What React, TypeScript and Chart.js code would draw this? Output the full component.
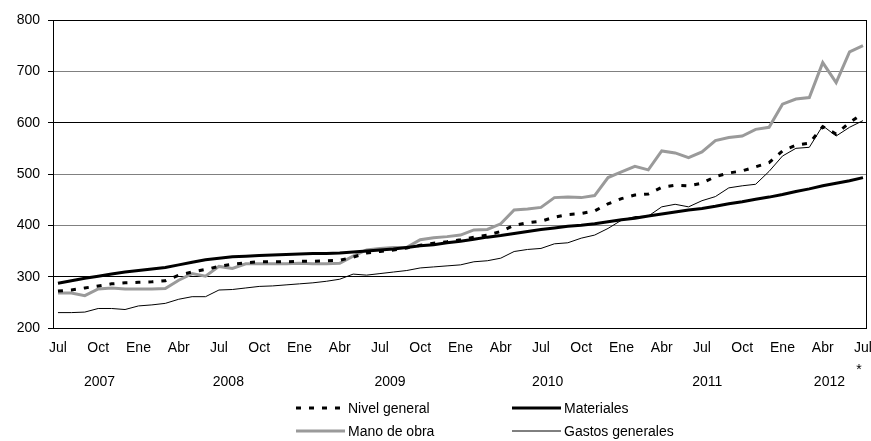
import React, { useEffect, useRef } from 'react';
import { Chart, registerables } from 'chart.js';

Chart.register(...registerables);

// ---------- DATA ----------
const monthTicks = [
  'Jul', 'Oct', 'Ene', 'Abr', 'Jul', 'Oct', 'Ene', 'Abr', 'Jul', 'Oct', 'Ene',
  'Abr', 'Jul', 'Oct', 'Ene', 'Abr', 'Jul', 'Oct', 'Ene', 'Abr', 'Jul',
];
const yearLabels = ['2007', '2008', '2009', '2010', '2011', '2012'];

// Monthly index values, Jul 2007 .. Jul 2012 (61 months)
const nivelGeneral = [
  272, 274, 278, 282, 286, 288, 289, 290, 292, 303, 309, 314, 320, 324, 327, 329,
  329, 329, 330, 330, 331, 332, 338, 346, 349, 352, 356, 361, 365, 368, 372, 377,
  381, 388, 400, 405, 408, 416, 421, 423, 428, 442, 452, 459, 461, 474, 478, 477,
  482, 495, 502, 506, 514, 522, 545, 556, 560, 592, 578, 600, 618,
];
const materiales = [
  287, 292, 297, 301, 305, 309, 312, 315, 318, 323, 328, 333, 336, 339, 340, 341,
  342, 343, 344, 345, 345, 346, 348, 350, 352, 354, 357, 360, 362, 366, 369, 373,
  377, 380, 384, 388, 392, 395, 398, 400, 403, 407, 411, 414, 418, 422, 426, 430,
  433, 437, 442, 446, 451, 455, 460, 466, 471, 477, 482, 487, 493,
];
const manoDeObra = [
  268, 268, 263, 276, 278, 276, 276, 276, 277, 293, 306, 301, 320, 316, 325, 325,
  325, 325, 326, 325, 325, 326, 340, 352, 355, 357, 357, 372, 376, 378, 381, 391,
  392, 403, 430, 432, 435, 454, 455, 454, 458, 493, 504, 515, 508, 545, 541, 532,
  543, 565, 571, 574, 587, 591, 636, 646, 649, 717, 678, 738, 750,
];
const gastosGenerales = [
  230, 230, 231, 238, 238, 236, 243, 245, 248, 256, 261, 261, 274, 275, 278, 281,
  282, 284, 286, 288, 291, 295, 305, 303, 306, 309, 312, 317, 319, 321, 323, 329,
  331, 336, 349, 353, 355, 364, 366, 375, 381, 394, 410, 417, 418, 436, 441, 436,
  448, 456, 473, 477, 480, 505, 535, 550, 552, 594, 574, 591, 604,
];

// ---------- STYLE ----------
const FONT = '"Liberation Sans", Arial, Helvetica, sans-serif';
const GRAY = '#9a9a9a';
const YEAR_POS = [3.1, 12.7, 24.75, 36.5, 48.4, 57.5]; // in month-index units
const STAR_POS = 59.7;

const toPts = (arr: number[]) => arr.map((v, i) => ({ x: i, y: v }));

const legendItems = [
  { label: 'Nivel general', color: '#000', width: 3, dash: [5, 8], col: 0, row: 0 },
  { label: 'Materiales', color: '#000', width: 3, dash: [] as number[], col: 1, row: 0 },
  { label: 'Mano de obra', color: GRAY, width: 3, dash: [] as number[], col: 0, row: 1 },
  { label: 'Gastos generales', color: '#000', width: 1, dash: [] as number[], col: 1, row: 1 },
];

const extrasPlugin = {
  id: 'extras',
  beforeDatasetsDraw(chart: any) {
    const { ctx, chartArea: ca } = chart;
    ctx.save();
    ctx.strokeStyle = '#000';
    ctx.lineWidth = 1;
    const l = Math.round(ca.left) + 0.5;
    const t = Math.round(ca.top) + 0.5;
    const r = Math.round(ca.right) - 0.5;
    const b = Math.round(ca.bottom) + 0.5;
    ctx.strokeRect(l, t, r - l, b - t);
    ctx.restore();
  },
  afterDraw(chart: any) {
    const { ctx, chartArea: ca } = chart;
    const xs = chart.scales.x;
    ctx.save();
    ctx.fillStyle = '#000';
    ctx.font = `14px ${FONT}`;
    ctx.textAlign = 'center';
    ctx.textBaseline = 'alphabetic';
    yearLabels.forEach((y, k) => {
      ctx.fillText(y, xs.getPixelForValue(YEAR_POS[k]), ca.bottom + 58);
    });
    ctx.fillText('*', xs.getPixelForValue(STAR_POS), ca.bottom + 46);

    // legend (2 x 2)
    const colX = [296, 512];
    const rowY = [408, 431];
    ctx.textAlign = 'left';
    ctx.textBaseline = 'middle';
    legendItems.forEach((it) => {
      const x0 = colX[it.col];
      const y0 = rowY[it.row];
      ctx.beginPath();
      ctx.setLineDash(it.dash);
      ctx.lineCap = 'butt';
      ctx.strokeStyle = it.color;
      ctx.lineWidth = it.width;
      ctx.moveTo(x0, y0);
      ctx.lineTo(x0 + 49, y0);
      ctx.stroke();
      ctx.setLineDash([]);
      ctx.fillStyle = '#000';
      ctx.fillText(it.label, x0 + 52, y0 + 1);
    });
    ctx.restore();
  },
};

export default function App() {
  const ref = useRef<HTMLCanvasElement | null>(null);

  useEffect(() => {
    document.body.style.margin = '0';
    const canvas = ref.current;
    if (!canvas) return;
    const chart = new Chart(canvas, {
      type: 'line',
      data: {
        datasets: [
          {
            label: 'Nivel general',
            data: toPts(nivelGeneral),
            borderColor: '#000',
            borderWidth: 3,
            borderDash: [5, 8],
            pointRadius: 0,
            tension: 0,
            fill: false,
          },
          {
            label: 'Gastos generales',
            data: toPts(gastosGenerales),
            borderColor: '#000',
            borderWidth: 1,
            pointRadius: 0,
            tension: 0,
            fill: false,
          },
          {
            label: 'Materiales',
            data: toPts(materiales),
            borderColor: '#000',
            borderWidth: 3,
            pointRadius: 0,
            tension: 0,
            fill: false,
          },
          {
            label: 'Mano de obra',
            data: toPts(manoDeObra),
            borderColor: GRAY,
            borderWidth: 3,
            pointRadius: 0,
            tension: 0,
            fill: false,
          },
        ],
      },
      options: {
        animation: false,
        responsive: false,
        devicePixelRatio: 1,
        layout: { padding: { top: 20, right: 4, left: 0, bottom: 0 } },
        plugins: { legend: { display: false }, tooltip: { enabled: false } },
        scales: {
          x: {
            type: 'linear',
            min: -0.37,
            max: 60.3,
            grid: { display: false, drawTicks: false },
            border: { display: false },
            afterBuildTicks: (s: any) => {
              s.ticks = monthTicks.map((_, k) => ({ value: k * 3 }));
            },
            afterFit: (s: any) => {
              s.height = 113;
              s.paddingLeft = 0;
              s.paddingRight = 0;
            },
            ticks: {
              autoSkip: false,
              maxRotation: 0,
              minRotation: 0,
              padding: 12,
              color: '#000',
              font: { family: FONT, size: 14 },
              callback: (_v: any, idx: number) => monthTicks[idx],
            },
          },
          y: {
            min: 200,
            max: 800,
            border: { display: false },
            grid: {
              color: (c: any) => {
                const v = c.tick && c.tick.value;
                if (v === 300 || v === 600) return '#000';
                return '#808080';
              },
              tickColor: '#000',
              tickLength: 5,
              drawTicks: true,
            },
            afterFit: (s: any) => {
              s.width = 53;
              s.paddingTop = 0;
              s.paddingBottom = 0;
            },
            ticks: {
              stepSize: 100,
              padding: 8,
              color: '#000',
              font: { family: FONT, size: 14 },
            },
          },
        },
      },
      plugins: [extrasPlugin],
    });
    return () => chart.destroy();
  }, []);

  return (
    <div style={{ position: 'absolute', left: 0, top: 0, width: 871, height: 441, background: '#fff' }}>
      <canvas ref={ref} width={871} height={441} style={{ display: 'block', width: 871, height: 441 }} />
    </div>
  );
}
